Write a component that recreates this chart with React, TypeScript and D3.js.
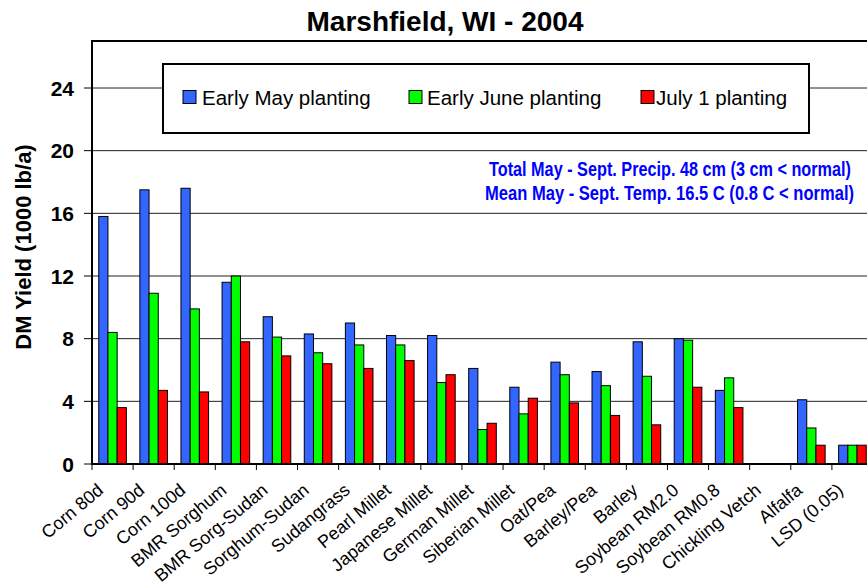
import React from 'react';
import * as d3 from 'd3';

const categories = [
  'Corn 80d', 'Corn 90d', 'Corn 100d', 'BMR Sorghum', 'BMR Sorg-Sudan', 'Sorghum-Sudan',
  'Sudangrass', 'Pearl Millet', 'Japanese Millet', 'German Millet', 'Siberian Millet',
  'Oat/Pea', 'Barley/Pea', 'Barley', 'Soybean RM2.0', 'Soybean RM0.8', 'Chickling Vetch',
  'Alfalfa', 'LSD (0.05)'
];
const seriesNames = ['Early May planting', 'Early June planting', 'July 1 planting'];
const earlyMay = [15.8, 17.5, 17.6, 11.6, 9.4, 8.3, 9.0, 8.2, 8.2, 6.1, 4.9, 6.5, 5.9, 7.8, 8.0, 4.7, 0, 4.1, 1.2];
const earlyJune = [8.4, 10.9, 9.9, 12.0, 8.1, 7.1, 7.6, 7.6, 5.2, 2.2, 3.2, 5.7, 5.0, 5.6, 7.9, 5.5, 0, 2.3, 1.2];
const july1 = [3.6, 4.7, 4.6, 7.8, 6.9, 6.4, 6.1, 6.6, 5.7, 2.6, 4.2, 3.9, 3.1, 2.5, 4.9, 3.6, 0, 1.2, 1.2];
const seriesValues = [earlyMay, earlyJune, july1];
const colors = ['#3366FF', '#00FF00', '#FF0000'];
const yTicks = [0, 4, 8, 12, 16, 20, 24];
const titleText = 'Marshfield, WI - 2004';
const yLabel = 'DM Yield (1000 lb/a)';
const note1 = 'Total May - Sept. Precip. 48 cm (3 cm < normal)';
const note2 = 'Mean May - Sept. Temp. 16.5 C (0.8 C < normal)';

const W = 867, H = 587;
const left = 92, right = 873, top = 41, bottom = 464;

export default function App() {
  const x0 = d3.scaleBand<string>().domain(categories).range([left, right]).padding(0);
  const x1 = d3.scaleBand<string>().domain(seriesNames).range([0, x0.bandwidth()]).paddingInner(0).paddingOuter(0.733);
  const y = d3.scaleLinear().domain([0, 27]).range([bottom, top]);
  const font = "Arial, 'Liberation Sans', Helvetica, sans-serif";

  const legendItems = [
    { sx: 183, tx: 202 },
    { sx: 409, tx: 427 },
    { sx: 641, tx: 656 },
  ];

  return (
    <svg width={W} height={H} style={{ position: 'absolute', left: 0, top: 0, background: '#fff' }} fontFamily={font}>
      <rect x={0} y={0} width={W} height={H} fill="#fff" />
      {yTicks.filter(t => t > 0).map(t => (
        <line key={'g' + t} x1={left} x2={right} y1={y(t)} y2={y(t)} stroke="#222" strokeWidth={1} />
      ))}
      <line x1={left} x2={right} y1={top} y2={top} stroke="#000" strokeWidth={2} />
      {categories.map((c, i) => (
        <g key={c}>
          {seriesNames.map((s, k) => {
            const v = seriesValues[k][i];
            const bx = (x0(c) as number) + (x1(s) as number);
            return (
              <rect key={s} x={bx} y={y(v)} width={x1.bandwidth()} height={y(0) - y(v)}
                fill={colors[k]} stroke="#000" strokeWidth={1} />
            );
          })}
        </g>
      ))}
      <line x1={left} x2={left} y1={top - 1} y2={bottom + 1} stroke="#000" strokeWidth={2} />
      <line x1={left} x2={right} y1={bottom} y2={bottom} stroke="#000" strokeWidth={2} />
      {yTicks.map(t => (
        <g key={'t' + t}>
          <line x1={left - 8} x2={left} y1={y(t)} y2={y(t)} stroke="#000" strokeWidth={1} />
          <text x={74} y={y(t)} dy="0.36em" textAnchor="end" fontWeight="bold" fontSize={21}>{t}</text>
        </g>
      ))}
      {categories.map((c, i) => (
        <line key={'xt' + i} x1={x0(c) as number} x2={x0(c) as number} y1={bottom} y2={bottom + 6} stroke="#000" strokeWidth={1} />
      ))}
      {categories.map((c) => {
        const cx = (x0(c) as number) + x0.bandwidth() / 2 - 8;
        return (
          <text key={'xl' + c} transform={`translate(${cx},492) rotate(-40)`} textAnchor="end" fontSize={18}>{c}</text>
        );
      })}
      <text transform={`translate(31,247) rotate(-90)`} textAnchor="middle" fontWeight="bold" fontSize={22}>{yLabel}</text>
      <text x={445} y={31} textAnchor="middle" fontWeight="bold" fontSize={28}>{titleText}</text>
      <rect x={163} y={64} width={646} height={69} fill="#fff" stroke="#000" strokeWidth={2} />
      {seriesNames.map((s, k) => (
        <g key={'lg' + s}>
          <rect x={legendItems[k].sx} y={90.5} width={13} height={13} fill={colors[k]} stroke="#000" strokeWidth={1} />
          <text x={legendItems[k].tx} y={105} fontSize={20.5}>{s}</text>
        </g>
      ))}
      <text x={851} y={175.5} textAnchor="end" fill="#0000FF" fontWeight="bold" fontSize={20}
        fontFamily="'Liberation Sans Narrow', 'Arial Narrow', Arial, sans-serif"
        textLength={362} lengthAdjust="spacingAndGlyphs">{note1}</text>
      <text x={854} y={199.5} textAnchor="end" fill="#0000FF" fontWeight="bold" fontSize={20}
        fontFamily="'Liberation Sans Narrow', 'Arial Narrow', Arial, sans-serif"
        textLength={369} lengthAdjust="spacingAndGlyphs">{note2}</text>
    </svg>
  );
}
